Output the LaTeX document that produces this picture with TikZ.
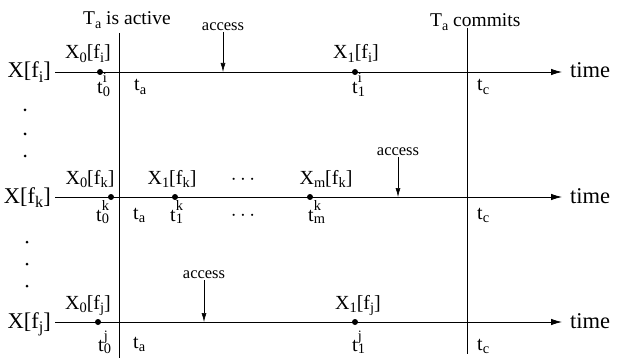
\documentclass[tikz,border=0pt]{standalone}
\usepackage{fontspec}
\setmainfont{Liberation Serif}
\usepackage{graphicx}
\usetikzlibrary{arrows.meta}
\newcommand\lsub[1]{\raisebox{-0.18em}{\scalebox{0.72}{#1}}}
\newcommand\tss[2]{t\rlap{\raisebox{0.55em}{\scalebox{0.72}{#2}}}\raisebox{-0.12em}{\scalebox{0.72}{#1}}}
\tikzset{
  rowlab/.style={font=\fontsize{22.5}{24}\selectfont, anchor=base east, inner sep=0pt},
  timelab/.style={font=\fontsize{22.5}{24}\selectfont, anchor=base west, inner sep=0pt},
  ptlab/.style={font=\fontsize{20}{22}\selectfont, anchor=base, inner sep=0pt},
  tlab/.style={font=\fontsize{20}{22}\selectfont, anchor=base west, inner sep=0pt},
  toplab/.style={font=\fontsize{19.5}{22}\selectfont, anchor=base west, inner sep=0pt},
  acclab/.style={font=\fontsize{16.5}{18}\selectfont, anchor=south, inner sep=1pt},
  timeline/.style={line width=0.8pt, -{Latex[length=11pt,width=6.5pt]}},
  vline/.style={line width=0.8pt},
  accarrow/.style={line width=0.6pt, -{Latex[length=9pt,width=5pt]}},
  evdot/.style={circle, fill, inner sep=0pt, minimum size=6pt},
  vdot/.style={circle, fill, inner sep=0pt, minimum size=3pt}
}
\begin{document}
\begin{tikzpicture}[x=1pt,y=-1pt]
\useasboundingbox (0,0) rectangle (620,358);

% top labels
\node[toplab] (active) at (83,25) {T\lsub{a} is active};
\node[toplab] (commits) at (430,27) {T\lsub{a} commits};

% vertical lines
\coordinate (tatop) at (119,33);
\coordinate (tabot) at (119,358);
\coordinate (tctop) at (467,28);
\coordinate (tcbot) at (467,354);
\draw[vline] (tatop) -- (tabot);
\draw[vline] (tctop) -- (tcbot);

% ---------- row i ----------
\node[rowlab] (Xi) at (51,78) {X[f\lsub{i}]};
\coordinate (si) at (55,72);
\coordinate (ei) at (562,72);
\draw[timeline] (si) -- (ei);
\node[timelab] (timei) at (570,78) {time};
\node[evdot] (d0i) at (100,72) {};
\node[evdot] (d1i) at (355,72) {};
\node[ptlab] (X0i) at (88,59) {X\lsub{0}[f\lsub{i}]};
\node[ptlab] (X1i) at (356,59) {X\lsub{1}[f\lsub{i}]};
\node[tlab] (t0i) at (97,94) {\tss{0}{i}};
\node[tlab] (t1i) at (352,94) {\tss{1}{i}};
\node[tlab] (tai) at (134,91) {t\lsub{a}};
\node[tlab] (tci) at (477,91) {t\lsub{c}};
\node[acclab] (acci) at (223,32) {access};
\coordinate (acciend) at (223,72);
\draw[accarrow] (acci.south) -- (acciend);

% vertical ellipsis
\node[vdot] (v1) at (25,110) {};
\node[vdot] (v2) at (25,134) {};
\node[vdot] (v3) at (25,156) {};

% ---------- row k ----------
\node[rowlab] (Xk) at (51,203) {X[f\lsub{k}]};
\coordinate (sk) at (55,197);
\coordinate (ek) at (562,197);
\draw[timeline] (sk) -- (ek);
\node[timelab] (timek) at (570,203) {time};
\node[evdot] (d0k) at (111,197) {};
\node[evdot] (d1k) at (175,197) {};
\node[evdot] (dmk) at (310,197) {};
\node[ptlab] (X0k) at (90,184) {X\lsub{0}[f\lsub{k}]};
\node[ptlab] (X1k) at (172,184) {X\lsub{1}[f\lsub{k}]};
\node[ptlab] (dotsup) at (243,184) {$\cdots$};
\node[ptlab] (Xmk) at (326,184) {X\lsub{m}[f\lsub{k}]};
\node[tlab] (t0k) at (96,221) {\tss{0}{k}};
\node[tlab] (t1k) at (170,221) {\tss{1}{k}};
\node[ptlab] (dotsdn) at (243,220) {$\cdots$};
\node[tlab] (tmk) at (308,221) {\tss{m}{k}};
\node[tlab] (tak) at (133,219) {t\lsub{a}};
\node[tlab] (tck) at (477,219) {t\lsub{c}};
\node[acclab] (acck) at (398,157) {access};
\coordinate (acckend) at (398,197);
\draw[accarrow] (acck.south) -- (acckend);

% vertical ellipsis
\node[vdot] (v4) at (27,242) {};
\node[vdot] (v5) at (27,264) {};
\node[vdot] (v6) at (27,286) {};

% ---------- row j ----------
\node[rowlab] (Xj) at (51,328) {X[f\lsub{j}]};
\coordinate (sj) at (55,322);
\coordinate (ej) at (562,322);
\draw[timeline] (sj) -- (ej);
\node[timelab] (timej) at (570,328) {time};
\node[evdot] (d0j) at (98,322) {};
\node[evdot] (d1j) at (355,322) {};
\node[ptlab] (X0j) at (88,309) {X\lsub{0}[f\lsub{j}]};
\node[ptlab] (X1j) at (358,309) {X\lsub{1}[f\lsub{j}]};
\node[tlab] (t0j) at (98,351) {\tss{0}{j}};
\node[tlab] (t1j) at (352,351) {\tss{1}{j}};
\node[tlab] (taj) at (133,348) {t\lsub{a}};
\node[tlab] (tcj) at (477,350) {t\lsub{c}};
\node[acclab] (accj) at (204,280) {access};
\coordinate (accjend) at (204,322);
\draw[accarrow] (accj.south) -- (accjend);
\end{tikzpicture}
\end{document}
